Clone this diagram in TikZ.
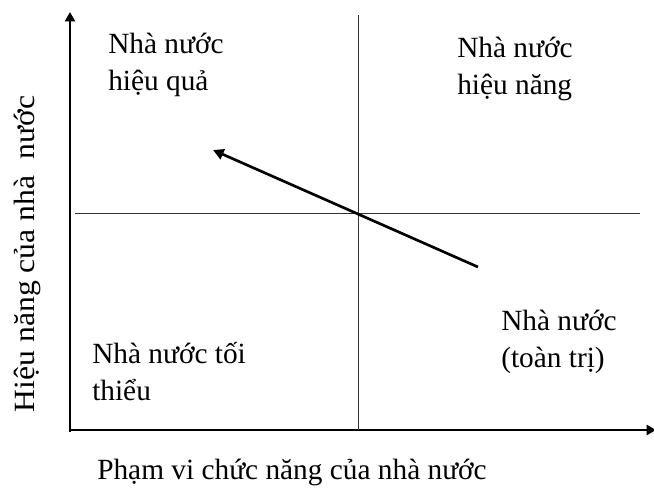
\documentclass[tikz,border=0pt]{standalone}
\usepackage{fontspec}
\setmainfont{Liberation Serif}
\usepackage{tikz}
\usetikzlibrary{arrows.meta, positioning}

\begin{document}
\begin{tikzpicture}[x=0.75pt, y=-0.75pt,
    font=\fontsize{22}{27.75}\selectfont,
    axis/.style={line width=2.2pt, -{Triangle[length=7pt, width=7.5pt]}},
    quad/.style={line width=0.6pt, black!80},
    trend/.style={line width=2pt, -{Triangle[length=8pt, width=8pt]}},
    lbl/.style={anchor=base west, align=left, inner sep=0pt}]
  \useasboundingbox (0,0) rectangle (654,487);
  % axes
  \coordinate (o) at (70,430);
  \coordinate (ytop) at (70,12);
  \coordinate (xend) at (656,430);
  \draw[axis] ([yshift=-1.5pt]o) -- (ytop);
  \draw[axis] ([xshift=-1pt]o) -- (xend);
  % quadrant lines
  \coordinate (vt) at (358,15);
  \coordinate (vb) at (358,430);
  \coordinate (hl) at (75,213);
  \coordinate (hr) at (640,213);
  \draw[quad] (vt) -- (vb);
  \draw[quad] (hl) -- (hr);
  % quadrant labels (base = last line)
  \node[lbl] (eff)  at (108,90)  {Nhà nước\\hiệu quả};
  \node[lbl] (perf) at (457,94)  {Nhà nước\\hiệu năng};
  \node[lbl] (min)  at (92,400)  {Nhà nước tối\\thiểu};
  \node[lbl] (tot)  at (501,367) {Nhà nước\\(toàn trị)};
  % shift
  \coordinate (from) at (478,267);
  \coordinate (to) at (213,150);
  \draw[trend] (from) -- (to);
  % axis titles
  \node[anchor=base west, inner sep=0pt] (xlab) at (97,479) {Phạm vi chức năng của nhà nước};
  \node[anchor=base, rotate=90, xscale=1.08, inner sep=0pt] (ylab) at (34,254)
       {Hiệu năng của nhà\ \ nước};
\end{tikzpicture}
\end{document}
